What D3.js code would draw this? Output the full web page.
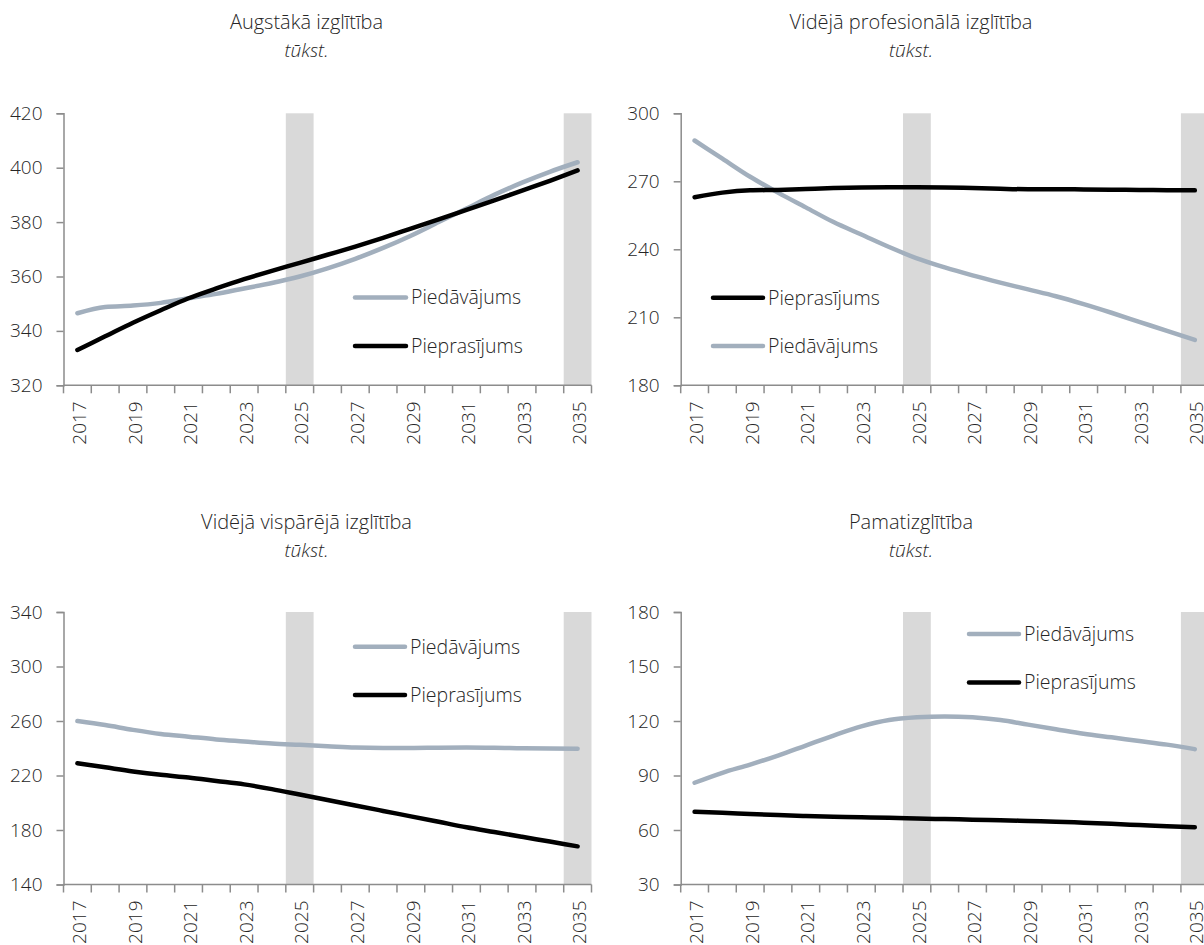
<!DOCTYPE html>
<html>
<head>
<meta charset="utf-8">
<script src="https://cdn.jsdelivr.net/npm/d3@7"></script>
<style>
  html, body { margin: 0; padding: 0; background: #ffffff; }
  svg { display: block; }
  text { font-family: "Segoe UI Light", "Open Sans", "Noto Sans", sans-serif; font-weight: 300; fill: #262626; }
</style>
</head>
<body>
<svg id="chart" width="1204" height="945"></svg>
<script>
// ---------- DATA ----------
const years = [2017, 2018, 2019, 2020, 2021, 2022, 2023, 2024, 2025, 2026, 2027, 2028, 2029, 2030, 2031, 2032, 2033, 2034, 2035];
const xTickLabels = ["2017", "2019", "2021", "2023", "2025", "2027", "2029", "2031", "2033", "2035"];
const highlightYears = [2025, 2035];
const seriesNames = ["Piedāvājums", "Pieprasījums"];
const panelTitles = ["Augstākā izglītība", "Vidējā profesionālā izglītība", "Vidējā vispārējā izglītība", "Pamatizglītība"];
const unitLabel = "tūkst.";

// Augstākā izglītība
const supplyHigher = [346.5, 348.8, 349.3, 350.3, 352.0, 353.6, 355.6, 357.6, 360.0, 363.0, 366.5, 370.5, 375.0, 380.0, 385.0, 390.0, 394.5, 398.5, 402.0];
const demandHigher = [333.0, 338.0, 343.0, 347.6, 352.0, 355.6, 359.0, 362.1, 365.0, 368.0, 371.0, 374.2, 377.6, 381.0, 384.5, 388.0, 391.6, 395.2, 399.0];
const yTicksHigher = [320, 340, 360, 380, 400, 420];

// Vidējā profesionālā izglītība
const supplyVocational = [288.0, 280.0, 272.0, 265.0, 258.5, 252.0, 246.5, 241.0, 236.0, 232.0, 228.5, 225.3, 222.3, 219.3, 215.8, 212.0, 208.0, 204.0, 200.0];
const demandVocational = [263.0, 265.0, 266.0, 266.2, 266.6, 267.0, 267.3, 267.4, 267.4, 267.3, 267.0, 266.7, 266.5, 266.5, 266.4, 266.3, 266.2, 266.1, 266.0];
const yTicksVocational = [180, 210, 240, 270, 300];

// Vidējā vispārējā izglītība
const supplyGeneral = [260.0, 257.0, 253.5, 250.5, 248.5, 246.5, 245.0, 243.5, 242.5, 241.5, 240.5, 240.2, 240.2, 240.4, 240.5, 240.4, 240.0, 239.8, 239.7];
const demandGeneral = [229.0, 226.0, 223.0, 220.5, 218.5, 216.0, 213.5, 210.0, 206.0, 202.0, 198.0, 194.0, 190.0, 186.0, 182.0, 178.5, 175.0, 171.5, 168.0];
const yTicksGeneral = [140, 180, 220, 260, 300, 340];

// Pamatizglītība
const supplyBasic = [86.0, 91.5, 96.0, 101.0, 106.5, 112.0, 117.0, 120.5, 122.0, 122.5, 122.0, 120.5, 118.0, 115.5, 113.0, 111.0, 109.0, 107.0, 104.5];
const demandBasic = [70.0, 69.5, 68.8, 68.2, 67.7, 67.3, 67.0, 66.7, 66.3, 66.0, 65.7, 65.4, 65.0, 64.6, 64.0, 63.4, 62.7, 62.0, 61.5];
const yTicksBasic = [30, 60, 90, 120, 150, 180];

// ---------- LAYOUT / STYLE ----------
const colors = { supply: "#a2afbd", demand: "#000000", band: "#d9d9d9", axis: "#8c8c8c" };

const panels = [
  { title: panelTitles[0], supply: supplyHigher, demand: demandHigher, ticks: yTicksHigher,
    left: 63.5, top: 113.3, width: 528, height: 272, titleX: 306.5, titleY: 29,
    legend: { x1: 355, x2: 406, tx: 411, items: [{ key: "supply", y: 297.5 }, { key: "demand", y: 346 }] } },
  { title: panelTitles[1], supply: supplyVocational, demand: demandVocational, ticks: yTicksVocational,
    left: 680.7, top: 113.3, width: 528, height: 272, titleX: 911, titleY: 29,
    legend: { x1: 713, x2: 763, tx: 768, items: [{ key: "demand", y: 297.7 }, { key: "supply", y: 346 }] } },
  { title: panelTitles[2], supply: supplyGeneral, demand: demandGeneral, ticks: yTicksGeneral,
    left: 63.5, top: 612, width: 528, height: 272.5, titleX: 306.5, titleY: 529,
    legend: { x1: 355, x2: 405, tx: 410, items: [{ key: "supply", y: 646.7 }, { key: "demand", y: 695 }] } },
  { title: panelTitles[3], supply: supplyBasic, demand: demandBasic, ticks: yTicksBasic,
    left: 680.7, top: 612, width: 528, height: 272.5, titleX: 911, titleY: 529,
    legend: { x1: 969, x2: 1019, tx: 1024, items: [{ key: "supply", y: 634 }, { key: "demand", y: 682.5 }] } }
];

const svg = d3.select("#chart");

panels.forEach(p => {
  const g = svg.append("g").attr("transform", `translate(${p.left},${p.top})`);

  const x = d3.scaleBand().domain(years).range([0, p.width]).paddingInner(0).paddingOuter(0);
  const y = d3.scaleLinear().domain(d3.extent(p.ticks)).range([p.height, 0]);

  // highlighted bands
  g.selectAll("rect.band").data(highlightYears).enter().append("rect")
    .attr("class", "band")
    .attr("x", d => x(d))
    .attr("y", 0)
    .attr("width", x.bandwidth())
    .attr("height", p.height)
    .attr("fill", colors.band);

  // y axis
  const yAxis = d3.axisLeft(y).tickValues(p.ticks).tickSize(7).tickPadding(14).tickFormat(d3.format("d"));
  const ya = g.append("g").call(yAxis);
  ya.select(".domain").attr("stroke", colors.axis).attr("stroke-width", 1.5);
  ya.selectAll(".tick line").attr("stroke", colors.axis).attr("stroke-width", 1.5);
  ya.selectAll(".tick text").attr("font-size", 19).attr("fill", "#262626")
    .style("font-family", '"Segoe UI Light", "Open Sans", "Noto Sans", sans-serif');

  // x axis line + boundary ticks
  const xa = g.append("g").attr("transform", `translate(0,${p.height})`);
  xa.append("line").attr("x1", 0).attr("x2", p.width).attr("y1", 0).attr("y2", 0)
    .attr("stroke", colors.axis).attr("stroke-width", 1.5);
  const boundaries = years.map(d => x(d)).concat([x(years[years.length - 1]) + x.bandwidth()]);
  xa.selectAll("line.bt").data(boundaries).enter().append("line")
    .attr("class", "bt")
    .attr("x1", d => d).attr("x2", d => d)
    .attr("y1", 0).attr("y2", 8)
    .attr("stroke", colors.axis).attr("stroke-width", 1.5);
  xa.selectAll("text.xl").data(xTickLabels).enter().append("text")
    .attr("class", "xl")
    .attr("transform", d => `translate(${x(+d) + x.bandwidth() / 2 + 2},16) rotate(-90)`)
    .attr("text-anchor", "end")
    .attr("dy", "0.35em")
    .attr("font-size", 19)
    .text(d => d);

  // lines
  const line = d3.line()
    .x((d, i) => x(years[i]) + x.bandwidth() / 2)
    .y(d => y(d))
    .curve(d3.curveMonotoneX);

  g.append("path").datum(p.supply)
    .attr("d", line).attr("fill", "none")
    .attr("stroke", colors.supply).attr("stroke-width", 4.5)
    .attr("stroke-linecap", "round").attr("stroke-linejoin", "round");
  g.append("path").datum(p.demand)
    .attr("d", line).attr("fill", "none")
    .attr("stroke", colors.demand).attr("stroke-width", 4.5)
    .attr("stroke-linecap", "round").attr("stroke-linejoin", "round");

  // titles
  svg.append("text").attr("x", p.titleX).attr("y", p.titleY)
    .attr("text-anchor", "middle").attr("font-size", 20).text(p.title);
  svg.append("text").attr("x", p.titleX).attr("y", p.titleY + 28)
    .attr("text-anchor", "middle").attr("font-size", 19).attr("font-style", "italic").text(unitLabel);

  // legend
  const lg = svg.append("g");
  p.legend.items.forEach(it => {
    lg.append("line")
      .attr("x1", p.legend.x1).attr("x2", p.legend.x2)
      .attr("y1", it.y).attr("y2", it.y)
      .attr("stroke", colors[it.key]).attr("stroke-width", 4.5).attr("stroke-linecap", "round");
    lg.append("text")
      .attr("x", p.legend.tx).attr("y", it.y).attr("dy", "0.35em")
      .attr("font-size", 19.5)
      .text(it.key === "supply" ? seriesNames[0] : seriesNames[1]);
  });
});
</script>
</body>
</html>
